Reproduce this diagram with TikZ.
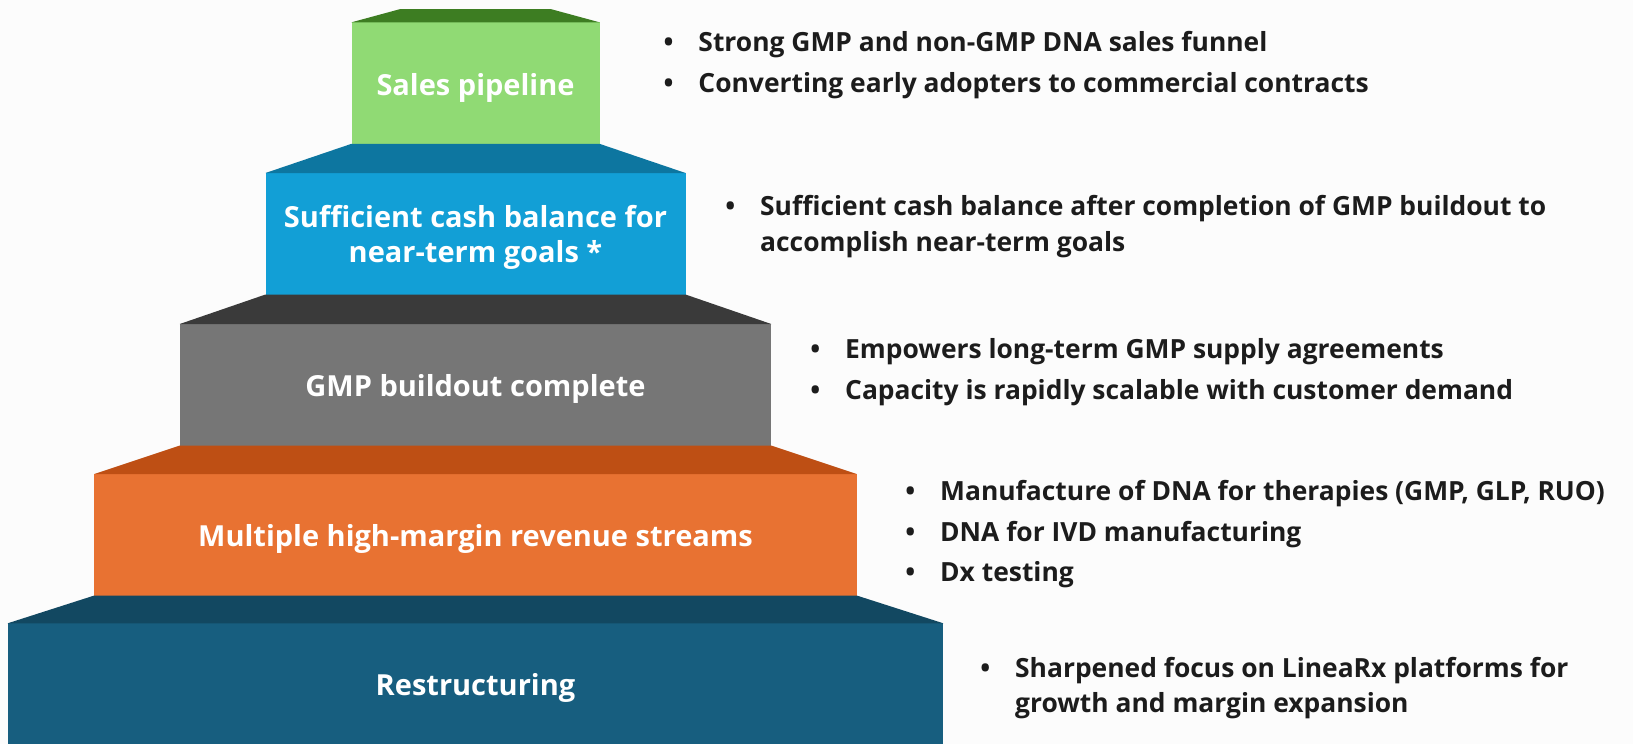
\documentclass[tikz,border=0pt]{standalone}
\usepackage{fontspec}
\setmainfont{Open Sans}
\usetikzlibrary{positioning}
\usepackage{xcolor}
\definecolor{pageBg}{RGB}{252,252,252}
\definecolor{inkDark}{RGB}{28,28,28}
\definecolor{greenTop}{RGB}{61,125,34}
\definecolor{greenFace}{RGB}{144,218,116}
\definecolor{blueTop}{RGB}{13,118,160}
\definecolor{blueFace}{RGB}{18,159,214}
\definecolor{grayTop}{RGB}{58,58,58}
\definecolor{grayFace}{RGB}{118,118,118}
\definecolor{orangeTop}{RGB}{190,79,20}
\definecolor{orangeFace}{RGB}{232,114,50}
\definecolor{navyTop}{RGB}{18,72,97}
\definecolor{navyFace}{RGB}{23,94,127}
\newcommand{\itembul}{\llap{\textbullet\hspace{25pt}}}

\begin{document}
\begin{tikzpicture}[x=1pt, y=-1pt,
  tier/.style={minimum height=121.5pt, inner sep=0pt, outer sep=0pt},
  tierlbl/.style={text=white, inner sep=0pt, font=\fontsize{29}{35}\selectfont\bfseries, align=center},
  item/.style={anchor=base west, inner sep=0pt, text=inkDark, font=\fontsize{26.4}{35.3}\selectfont\bfseries, align=left},
]
\fill[pageBg] (0,0) rectangle (1633,744);
\useasboundingbox (0,0) rectangle (1633,744);

% ─── Stacked tiers ───
\node[tier, fill=greenFace, minimum width=248pt] (sales) at (475.5,83.05) {};
\node[tier, fill=blueFace, minimum width=420pt] (cash) at (475.5,233.75) {};
\node[tier, fill=grayFace, minimum width=591.5pt] (gmp) at (475.5,384.75) {};
\node[tier, fill=orangeFace, minimum width=762.4pt] (rev) at (475.5,534.75) {};
\node[tier, fill=navyFace, minimum width=935.7pt] (restr) at (475.5,684.05) {};

% Top faces
\fill[greenTop] (400.5,9) -- (550.5,9) -- (sales.north east) -- (sales.north west) -- cycle;
\foreach \up/\lo/\c in {sales/cash/blueTop, cash/gmp/grayTop, gmp/rev/orangeTop, rev/restr/navyTop} {
  \fill[\c] (\up.south west) -- (\up.south east) -- (\lo.north east) -- (\lo.north west) -- cycle;
}

% Tier labels
\node[tierlbl, anchor=base] (salesLbl) at (475.5,95) {Sales pipeline};
\node[tierlbl] (cashLbl) at (475.5,237) {Sufficient cash balance for\\near-term goals *};
\node[tierlbl, anchor=base] (gmpLbl) at (475.5,396.7) {GMP buildout complete};
\node[tierlbl, anchor=base] (revLbl) at (475.5,546.7) {Multiple high-margin revenue streams};
\node[tierlbl, anchor=base] (restrLbl) at (475.5,695) {Restructuring};

% ─── Bullet points ───
% (two-line items sit on the baseline of their last line)
\node[item] (salesA) at (698.3,51.7) {\itembul Strong GMP and non-GMP DNA sales funnel};
\node[item] (salesB) at (698.3,92.7) {\itembul Converting early adopters to commercial contracts};

\node[item] (cashA) at (760,251) {\itembul Sufficient cash balance after completion of GMP buildout to\\accomplish near-term goals};

\node[item] (gmpA) at (845,358.3) {\itembul Empowers long-term GMP supply agreements};
\node[item] (gmpB) at (845,399.3) {\itembul Capacity is rapidly scalable with customer demand};

\node[item] (revA) at (940,500.7) {\itembul Manufacture of DNA for therapies (GMP, GLP, RUO)};
\node[item] (revB) at (940,541) {\itembul DNA for IVD manufacturing};
\node[item] (revC) at (940,581.7) {\itembul Dx testing};

\node[item] (restrA) at (1015,712.7) {\itembul Sharpened focus on LineaRx platforms for\\growth and margin expansion};

\end{tikzpicture}
\end{document}
